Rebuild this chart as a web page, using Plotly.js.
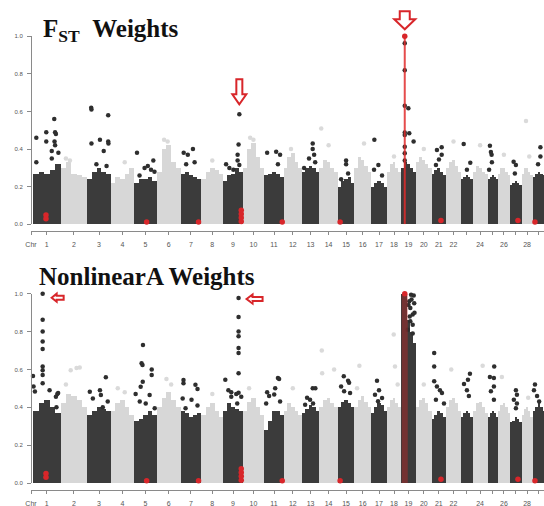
<!DOCTYPE html>
<html>
<head>
<meta charset="utf-8">
<script src="https://cdn.plot.ly/plotly-3.0.1.min.js"></script>
<style>html,body{margin:0;padding:0;background:#fff;}#chart{width:544px;height:506px;}</style>
</head>
<body>
<div id="chart"></div>
<script>
// ---------------- DATA ----------------
const chrNames = ['1','2','3','4','5','6','7','8','9','10','11','12','13','14','15','16','17','18','19','20','21','22','23','24','25','26','27','28','29'];
const chrLabelled = [1,2,3,4,5,6,7,8,9,10,11,12,13,14,15,16,17,18,19,20,21,22,24,26,28];
const chrUnlabelled = [23,25,27,29];
// chromosome spans (Mb, approximate as drawn)
const chrLen = [138,133,118,116,115,118,103,111,96,108,98,90,88,92,83,83,80,70,75,78,72,75,58,75,50,63,57,55,62];
const yTickVals = [0, 0.2, 0.4, 0.6, 0.8, 1.0];
const yTickText = ['0.0','0.2','0.4','0.6','0.8','1.0'];

// dense SNP body: upper envelope in 5 equal segments per chromosome
const fstBody = [
 [0.27,0.28,0.27,0.29,0.32],[0.30,0.33,0.27,0.26,0.25],[0.24,0.28,0.30,0.28,0.27],[0.22,0.25,0.24,0.27,0.30],
 [0.22,0.24,0.24,0.25,0.23],[0.28,0.40,0.42,0.33,0.30],[0.27,0.28,0.26,0.25,0.24],[0.24,0.28,0.30,0.29,0.27],
 [0.23,0.26,0.27,0.30,0.28],[0.30,0.40,0.43,0.36,0.30],[0.26,0.27,0.28,0.27,0.25],[0.30,0.36,0.38,0.33,0.30],
 [0.28,0.30,0.31,0.30,0.28],[0.30,0.34,0.33,0.30,0.28],[0.20,0.23,0.24,0.25,0.22],[0.30,0.36,0.34,0.31,0.28],
 [0.20,0.22,0.23,0.22,0.20],[0.28,0.32,0.33,0.30,0.28],[0.30,0.33,0.32,0.30,0.28],[0.33,0.36,0.34,0.32,0.30],
 [0.27,0.29,0.30,0.28,0.26],[0.30,0.33,0.34,0.31,0.28],[0.24,0.25,0.26,0.25,0.24],[0.28,0.31,0.30,0.28,0.27],
 [0.24,0.25,0.26,0.25,0.24],[0.27,0.30,0.30,0.28,0.26],[0.21,0.22,0.23,0.22,0.21],[0.27,0.30,0.30,0.28,0.26],
 [0.25,0.27,0.28,0.27,0.26]
];
const nlaBody = [
 [0.38,0.42,0.44,0.40,0.37],[0.42,0.47,0.46,0.44,0.40],[0.36,0.38,0.40,0.39,0.38],[0.38,0.42,0.44,0.40,0.36],
 [0.33,0.34,0.36,0.38,0.36],[0.40,0.45,0.48,0.44,0.40],[0.38,0.37,0.35,0.36,0.37],[0.36,0.40,0.42,0.38,0.35],
 [0.38,0.42,0.40,0.39,0.38],[0.38,0.43,0.45,0.40,0.36],[0.28,0.33,0.38,0.38,0.36],[0.38,0.42,0.40,0.38,0.36],
 [0.37,0.39,0.41,0.40,0.38],[0.40,0.44,0.45,0.42,0.40],[0.40,0.43,0.44,0.42,0.40],[0.40,0.44,0.46,0.43,0.40],
 [0.37,0.40,0.42,0.41,0.38],[0.40,0.44,0.45,0.42,0.40],[1.00,1.00,0.86,0.80,0.74],[0.40,0.44,0.45,0.42,0.38],
 [0.34,0.36,0.38,0.37,0.35],[0.40,0.44,0.45,0.42,0.38],[0.35,0.37,0.38,0.37,0.35],[0.38,0.42,0.43,0.40,0.37],
 [0.35,0.37,0.38,0.37,0.35],[0.38,0.41,0.42,0.40,0.37],[0.32,0.33,0.35,0.34,0.32],[0.36,0.39,0.40,0.38,0.35],
 [0.38,0.40,0.42,0.40,0.38]
];

// individual SNPs standing above the dense body (chromosome, relative position, weight)
const fstOutChr = [1,1,1,1,1,1,1,1,1,1,1,1, 2,2, 3,3,3,3,3,3,3,3,3,3, 4, 5,5,5,5,5,5,5, 6,6, 7,7,7,7,7, 8,
  9,9,9,9,9,9,9,9, 10,10, 11,11,11,11, 12, 13,13,13,13,13,13, 14,14, 15,15,15,15, 16, 17,17,17,17, 18,
  19,19,19,19,19,19,19,19,19,19,19, 20, 21,21,21,21,21, 22, 23,23,23, 24, 25,25,25,25,25, 26, 27,27,27, 28,28, 29,29,29];
const fstOutPos = [0.12,0.12,0.48,0.48,0.77,0.80,0.83,0.78,0.80,0.68,0.92,0.68, 0.20,0.35,
  0.17,0.18,0.18,0.54,0.89,0.89,0.90,0.70,0.39,0.82, 0.60, 0.13,0.46,0.60,0.84,0.74,0.24,0.89, 0.30,0.45,
  0.15,0.60,0.35,0.27,0.68, 0.50, 0.83,0.79,0.74,0.74,0.83,0.31,0.14,0.52, 0.35,0.50, 0.15,0.61,0.81,0.70, 0.40,
  0.62,0.62,0.70,0.76,0.41,0.13, 0.10,0.50, 0.50,0.50,0.62,0.20, 0.58, 0.21,0.46,0.19,0.69, 0.50,
  0.25,0.25,0.25,0.25,0.25,0.25,0.25,0.25,0.49,0.55,0.84, 0.50, 0.37,0.70,0.70,0.51,0.30, 0.50, 0.23,0.80,0.51, 0.50,
  0.23,0.33,0.40,0.43,0.15, 0.50, 0.30,0.50,0.41, 0.40,0.70, 0.63,0.63,0.44];
const fstOutVal = [0.46,0.33,0.49,0.44,0.56,0.49,0.48,0.44,0.42,0.39,0.38,0.35, 0.35,0.34,
  0.62,0.61,0.43,0.45,0.58,0.44,0.43,0.39,0.32,0.31, 0.33, 0.38,0.30,0.31,0.34,0.29,0.26,0.28, 0.45,0.44,
  0.38,0.40,0.37,0.32,0.33, 0.34, 0.585,0.425,0.37,0.34,0.315,0.30,0.32,0.29, 0.46,0.45, 0.38,0.386,0.37,0.32, 0.40,
  0.43,0.40,0.37,0.33,0.35,0.30, 0.51,0.42, 0.34,0.32,0.27,0.24, 0.43, 0.45,0.316,0.29,0.26, 0.36,
  0.963,0.82,0.63,0.488,0.475,0.413,0.378,0.34,0.617,0.484,0.44, 0.40, 0.395,0.41,0.37,0.345,0.316, 0.44, 0.427,0.328,0.29, 0.42,
  0.418,0.385,0.37,0.33,0.29, 0.37, 0.333,0.316,0.27, 0.55,0.36, 0.41,0.36,0.32];

const nlaOutChr = [1,1,1,1,1,1,1,1,1,1,1,1,1,1,1,1,1, 2,2,2,2, 3,3,3,3,3,3,3, 4,4, 5,5,5,5,5,5,5,5,5,5,5,5, 6,6,
  7,7,7,7,7,7,7,7, 8, 9,9,9,9,9,9,9,9,9,9,9,9,9,9,9, 10, 11,11,11,11,11,11,11,11, 12, 13,13,13,13,13,13,
  14,14,14, 15,15,15,15,15,15, 16,16, 17,17,17,17,17, 18,18,18, 19,19,19,19,19,19,19,19,19,19,19,19,19,19, 20,
  21,21,21,21,21,21,21,21, 22, 23,23,23,23,23, 24, 25,25,25,25,25,25, 26, 27,27,27,27,27, 28, 29,29,29,29];
const nlaOutPos = [0.35,0.35,0.35,0.35,0.35,0.35,0.35,0.35,0.35, 0.00,0.02,0.07,0.60,0.83,0.88,0.91,0.85,
  0.38,0.60,0.72,0.20, 0.79,0.11,0.24,0.54,0.58,0.87,0.66, 0.30,0.60,
  0.39,0.33,0.37,0.77,0.77,0.38,0.29,0.68,0.07,0.51,0.90,0.25, 0.40,0.60,
  0.14,0.14,0.72,0.82,0.53,0.82,0.24,0.10, 0.50,
  0.79,0.79,0.79,0.79,0.79,0.79,0.79,0.79, 0.10,0.26,0.41,0.67,0.41,0.93,0.72, 0.30,
  0.70,0.76,0.56,0.51,0.81,0.15,0.25,0.10, 0.50, 0.62,0.77,0.30,0.47,0.19,0.64,
  0.13,0.15,0.80, 0.36,0.62,0.68,0.20,0.38,0.74, 0.30,0.16, 0.375,0.50,0.25,0.69,0.44, 0.48,0.57,0.76,
  0.67,0.85,0.62,0.78,0.62,0.78,0.45,0.78,0.90,0.55,0.50,0.70,0.88,0.58, 0.50,
  0.18,0.18,0.18,0.37,0.58,0.72,0.30,0.86, 0.35, 0.77,0.60,0.26,0.51,0.68, 0.67,
  0.66,0.23,0.63,0.63,0.33,0.63, 0.34, 0.50,0.59,0.32,0.59,0.50, 0.60, 0.19,0.11,0.36,0.53];
const nlaOutVal = [1.00,0.863,0.80,0.748,0.708,0.616,0.595,0.57,0.527, 0.565,0.51,0.483,0.49,0.455,0.47,0.475,0.40,
  0.595,0.608,0.61,0.52, 0.558,0.482,0.447,0.49,0.465,0.43,0.40, 0.50,0.48,
  0.729,0.632,0.624,0.60,0.57,0.535,0.509,0.465,0.47,0.42,0.395,0.43, 0.55,0.52,
  0.544,0.527,0.519,0.496,0.44,0.41,0.395,0.447, 0.47,
  0.977,0.877,0.80,0.775,0.713,0.687,0.58,0.477, 0.546,0.49,0.48,0.47,0.455,0.455,0.42, 0.50,
  0.555,0.55,0.50,0.467,0.43,0.48,0.46,0.42, 0.50, 0.50,0.50,0.45,0.44,0.414,0.42,
  0.70,0.58,0.60, 0.564,0.54,0.53,0.51,0.485,0.476, 0.62,0.50, 0.54,0.49,0.466,0.449,0.432, 0.784,0.616,0.52,
  0.995,0.99,0.925,0.89,0.854,0.836,0.81,0.79,0.90,0.96,0.94,0.97,0.95,0.88, 0.52,
  0.687,0.616,0.537,0.51,0.49,0.475,0.44,0.42, 0.60, 0.577,0.545,0.523,0.49,0.46, 0.62,
  0.616,0.56,0.555,0.51,0.485,0.44, 0.56, 0.49,0.466,0.44,0.42,0.395, 0.45, 0.52,0.49,0.46,0.43];

// highlighted (candidate) SNPs, drawn in red
const hlChr = [1,1,5,7,9,9,9,9,11,15,19,21,27,29];
const hlPos = [0.47,0.47,0.55,0.87,0.93,0.93,0.93,0.93,0.92,0.14,0.25,0.65,0.68,0.19];
const hlValFst = [0.03,0.05,0.012,0.012,0.015,0.035,0.055,0.075,0.012,0.012,1.0,0.02,0.02,0.012];
const hlValNla = [0.03,0.05,0.012,0.012,0.015,0.035,0.055,0.075,0.012,0.012,1.0,0.02,0.02,0.012];
const hlLineChr = 19, hlLinePos = 0.25;

// arrows pointing at notable SNPs: [chr, pos, value]
const fstArrowTargets = [[9,0.83,0.585],[19,0.25,1.0]];
const nlaArrowTargets = [[1,0.35,1.0],[9,0.79,0.977]];

// ---------------- BUILD ----------------
const chrStart = [];
let acc = 0;
for (const L of chrLen) { chrStart.push(acc); acc += L; }
const xOf = (c, p) => chrStart[c-1] + p * chrLen[c-1];
const chrCenter = chrLen.map((L,i) => chrStart[i] + L/2);

const DARK = '#3b3b3b', LIGHT = '#d7d7d7', LIGHTPT = '#dadada', RED = '#d8262a';
const isDark = c => (c % 2) === 1;

function bodyTrace(body, xa, ya) {
  const x = [], y = [], w = [], col = [];
  body.forEach((segs, i) => {
    const n = segs.length, L = chrLen[i];
    segs.forEach((h, k) => {
      x.push(chrStart[i] + (k + 0.5) * L / n);
      y.push(h); w.push(L / n * 1.001);
      col.push(isDark(i+1) ? DARK : LIGHT);
    });
  });
  return {type:'bar', x, y, width:w, xaxis:xa, yaxis:ya, marker:{color:col, line:{width:0}}, hoverinfo:'skip', showlegend:false};
}
function outTraces(chrs, pos, vals, xa, ya) {
  const lx=[],ly=[],dx=[],dy=[];
  chrs.forEach((c,i) => {
    if (isDark(c)) { dx.push(xOf(c,pos[i])); dy.push(vals[i]); }
    else { lx.push(xOf(c,pos[i])); ly.push(vals[i]); }
  });
  return [
    {type:'scatter', mode:'markers', x:lx, y:ly, xaxis:xa, yaxis:ya, marker:{color:LIGHTPT, size:4.5}, cliponaxis:false, hoverinfo:'skip', showlegend:false},
    {type:'scatter', mode:'markers', x:dx, y:dy, xaxis:xa, yaxis:ya, marker:{color:'#2e2e2e', size:4.5}, cliponaxis:false, hoverinfo:'skip', showlegend:false}
  ];
}
function hlTraces(vals, xa, ya, lineW, lineCol) {
  const xl = xOf(hlLineChr, hlLinePos);
  return [
    {type:'scatter', mode:'lines', x:[xl,xl], y:[0,1], xaxis:xa, yaxis:ya, line:{color:lineCol, width:lineW}, hoverinfo:'skip', showlegend:false},
    {type:'scatter', mode:'markers', x:hlChr.map((c,i)=>xOf(c,hlPos[i])), y:vals, xaxis:xa, yaxis:ya, marker:{color:RED, size:5.5}, cliponaxis:false, hoverinfo:'skip', showlegend:false}
  ];
}

const data = [
  bodyTrace(fstBody,'x','y'), ...outTraces(fstOutChr,fstOutPos,fstOutVal,'x','y'), ...hlTraces(hlValFst,'x','y',2,'rgba(225,45,45,0.85)'),
  bodyTrace(nlaBody,'x2','y2'), ...outTraces(nlaOutChr,nlaOutPos,nlaOutVal,'x2','y2'), ...hlTraces(hlValNla,'x2','y2',6,'rgba(185,40,40,0.45)')
];

// ---------------- LAYOUT ----------------
const W = 544, H = 506;
const px = v => v / W, py = v => 1 - v / H;
const xRange = [-10, 2555];
const xDomain = [px(31), 1];
const topDomain = [py(224.3), py(36.3)], botDomain = [py(483), py(293.7)];
const axFont = {family:'Arial, Liberation Sans, sans-serif', size:7, color:'#555'};

function xAxis(posPx) {
  return {domain:xDomain, range:xRange, anchor:'free', position:py(posPx), showline:true, linecolor:'#8a8a8a', linewidth:1,
    ticks:'outside', ticklen:3, tickcolor:'#8a8a8a',
    tickvals:[xRange[0], ...chrLabelled.map(c => chrCenter[c-1])], ticktext:['Chr', ...chrLabelled.map(c => chrNames[c-1])],
    minor:{tickvals:chrUnlabelled.map(c => chrCenter[c-1]), ticks:'outside', ticklen:3, tickcolor:'#8a8a8a', showgrid:false},
    tickfont:axFont, ticklabelstandoff:4, showgrid:false, zeroline:false, fixedrange:true};
}
function yAxis(dom) {
  return {domain:dom, range:[0,1], anchor:'free', position:xDomain[0], showline:true, linecolor:'#8a8a8a', linewidth:1,
    ticks:'outside', ticklen:4, tickcolor:'#8a8a8a', tickvals:yTickVals, ticktext:yTickText, tickfont:{...axFont, size:6},
    ticklabelstandoff:3, showgrid:false, zeroline:false, fixedrange:true};
}
// data -> paper fraction (so annotation arrows outside the plot area are not clipped)
const xPaper = x => xDomain[0] + (x - xRange[0]) / (xRange[1] - xRange[0]) * (xDomain[1] - xDomain[0]);
const yPaper = (v, dom) => dom[0] + v * (dom[1] - dom[0]);

function downArrow(t, dom, tipGap, headW, headH, stemW, stemH) {
  const hw = headW/2, sw = stemW/2, y1 = tipGap + headH, y2 = y1 + stemH;
  return {type:'path', xref:'paper', yref:'paper', xsizemode:'pixel', ysizemode:'pixel',
    xanchor:xPaper(xOf(t[0],t[1])), yanchor:yPaper(t[2], dom),
    path:`M0,${tipGap} L${-hw},${y1} L${-sw},${y1} L${-sw},${y2} L${sw},${y2} L${sw},${y1} L${hw},${y1} Z`,
    line:{color:RED, width:2}, fillcolor:'#ffffff', layer:'above'};
}
function leftArrow(t, dom, tipGap, dy, headW, headH, stemW, stemH) {
  const hh = headH/2, sh = stemH/2, x1 = tipGap + headW, x2 = x1 + stemW;
  return {type:'path', xref:'paper', yref:'paper', xsizemode:'pixel', ysizemode:'pixel',
    xanchor:xPaper(xOf(t[0],t[1])), yanchor:yPaper(t[2], dom),
    path:`M${tipGap},${dy} L${x1},${dy+hh} L${x1},${dy+sh} L${x2},${dy+sh} L${x2},${dy-sh} L${x1},${dy-sh} L${x1},${dy-hh} Z`,
    line:{color:RED, width:2}, fillcolor:'#ffffff', layer:'above'};
}

const layout = {
  width:W, height:H, margin:{l:0,r:0,t:0,b:0}, paper_bgcolor:'#ffffff', plot_bgcolor:'#ffffff',
  showlegend:false, barmode:'overlay', bargap:0,
  xaxis: xAxis(231), yaxis: yAxis(topDomain),
  xaxis2: xAxis(490), yaxis2: yAxis(botDomain),
  shapes: [
    downArrow(fstArrowTargets[0], topDomain, 10, 14, 10, 6, 15),
    downArrow(fstArrowTargets[1], topDomain, 7, 21, 10, 10, 8),
    leftArrow(nlaArrowTargets[0], botDomain, 9, -4, 5, 8, 7, 4),
    leftArrow(nlaArrowTargets[1], botDomain, 8, -1, 6, 9, 10, 4)
  ],
  annotations: [
    {text:'F<sub>ST</sub>&nbsp;&nbsp;Weights', xref:'paper', yref:'paper', x:px(41), y:py(13), xanchor:'left', yanchor:'top', showarrow:false,
     font:{family:'Liberation Serif, Times New Roman, serif', size:25, color:'#111', weight:'bold'}},
    {text:'NonlinearA Weights', xref:'paper', yref:'paper', x:px(37), y:py(261), xanchor:'left', yanchor:'top', showarrow:false,
     font:{family:'Liberation Serif, Times New Roman, serif', size:25, color:'#111', weight:'bold'}}
  ]
};

Plotly.newPlot('chart', data, layout, {staticPlot:true, displayModeBar:false});
</script>
</body>
</html>
